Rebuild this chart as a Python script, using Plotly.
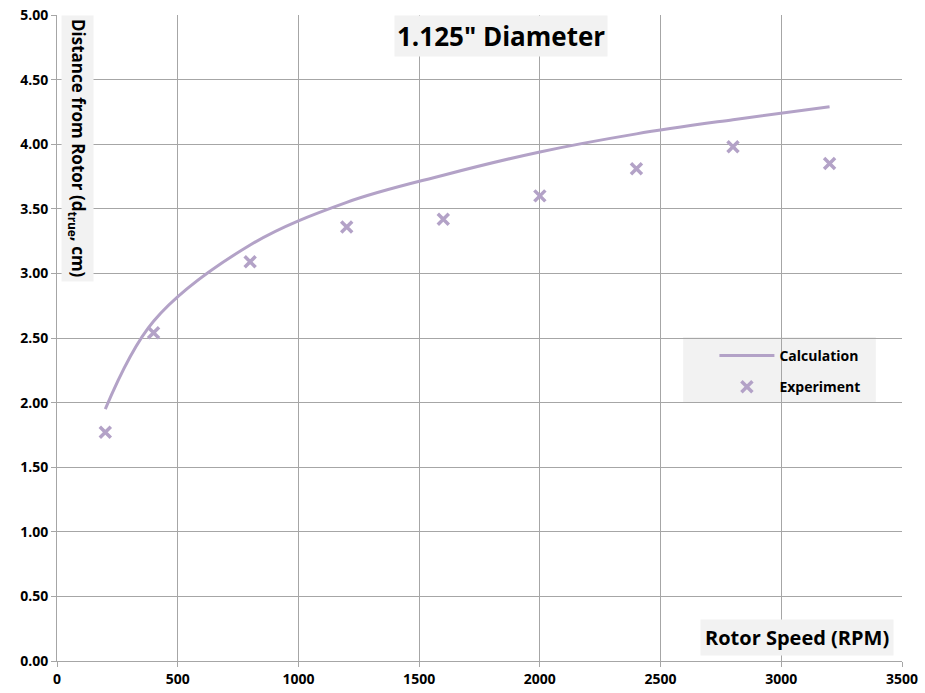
import plotly.graph_objects as go

rpm = [200, 400, 800, 1200, 1600, 2000, 2400, 2800, 3200]
calc = [1.95, 2.63, 3.22, 3.55, 3.76, 3.94, 4.08, 4.19, 4.29]
expt = [1.77, 2.54, 3.09, 3.36, 3.42, 3.60, 3.81, 3.98, 3.85]

x_ticks = [0, 500, 1000, 1500, 2000, 2500, 3000, 3500]
y_ticks = [0, 0.5, 1, 1.5, 2, 2.5, 3, 3.5, 4, 4.5, 5]

color = "#b3a2c7"
font = "Open Sans"

fig = go.Figure()
fig.add_trace(go.Scatter(x=rpm, y=calc, mode="lines", name="Calculation", legendgroup="a",
                         line=dict(color=color, width=3, shape="spline", smoothing=1.0)))
fig.add_trace(go.Scatter(x=rpm, y=expt, mode="markers", name="Experiment", legendgroup="b",
                         marker=dict(symbol="x-thin", size=11, color=color,
                                     line=dict(color=color, width=3.5))))

fig.update_layout(
    width=925, height=693,
    margin=dict(l=57, r=23, t=15, b=32),
    paper_bgcolor="white", plot_bgcolor="white",
    font=dict(family=font, size=14, color="black"),
    showlegend=True,
    legend=dict(x=0.778, y=0.497, xanchor="left", yanchor="top",
                bgcolor="rgba(0,0,0,0)", font=dict(size=14, family=font, weight="bold"),
                itemwidth=55, tracegroupgap=10, borderwidth=0),
    xaxis=dict(range=[0, 3500], tickvals=x_ticks, ticktext=[str(v) for v in x_ticks],
               showgrid=True, gridcolor="#a6a6a6", gridwidth=1, automargin=False,
               ticks="outside", ticklen=5, tickcolor="#a6a6a6",
               showline=True, linecolor="#a6a6a6", zeroline=False,
               tickfont=dict(size=14, family=font, weight="bold")),
    yaxis=dict(range=[0, 5], tickvals=y_ticks, ticktext=[f"{v:.2f}" for v in y_ticks],
               showgrid=True, gridcolor="#a6a6a6", gridwidth=1, automargin=False,
               ticks="outside", ticklen=5, tickcolor="#a6a6a6",
               showline=True, linecolor="#a6a6a6", zeroline=False,
               tickfont=dict(size=14, family=font, weight="bold")),
)

fig.add_shape(type="rect", xref="paper", yref="paper", x0=0.741, x1=0.969, y0=0.401, y1=0.5015,
              fillcolor="#f2f2f2", line=dict(width=0), layer="below")

fig.add_annotation(text="<b>1.125\" Diameter</b>", xref="paper", yref="paper",
                   x=0.525, y=1.0, xanchor="center", yanchor="top", showarrow=False,
                   font=dict(size=26, family=font, color="black"),
                   bgcolor="#f2f2f2", borderpad=2)
fig.add_annotation(text="<b>Distance from Rotor (d<sub>true</sub>, cm)</b>",
                   xref="paper", yref="paper", x=0.0243, y=1.0, xanchor="center", yanchor="top",
                   textangle=90, showarrow=False,
                   font=dict(size=17, family=font, color="black"),
                   bgcolor="#f2f2f2", borderpad=3)
fig.add_annotation(text="<b>Rotor Speed (RPM)</b>", xref="paper", yref="paper",
                   x=0.99, y=0.008, xanchor="right", yanchor="bottom", showarrow=False,
                   font=dict(size=20, family=font, color="black"),
                   bgcolor="#f2f2f2", borderpad=4)

fig.write_html("out.html")
